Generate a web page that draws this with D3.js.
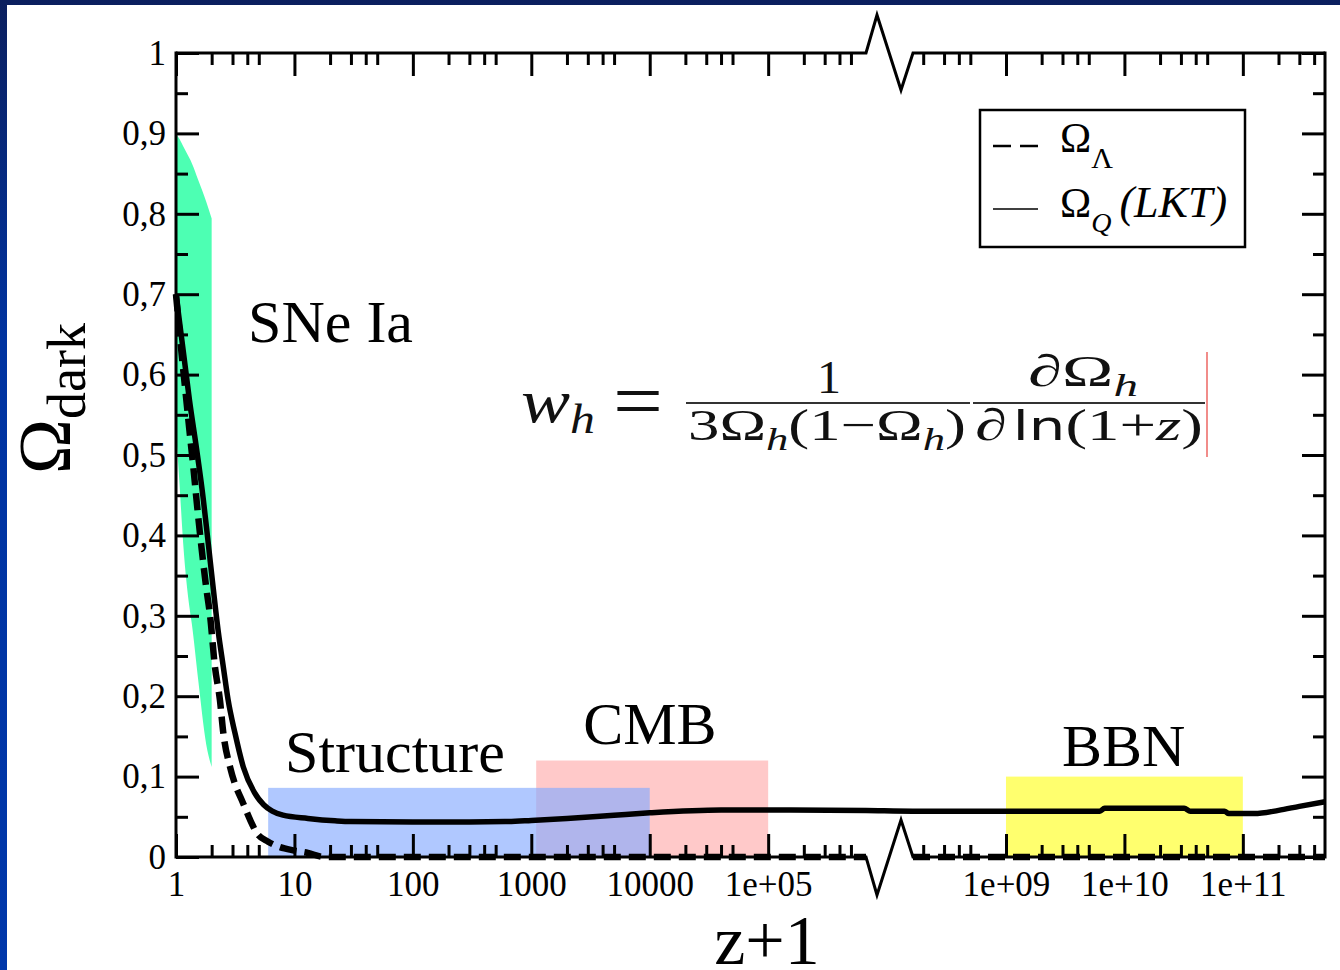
<!DOCTYPE html>
<html><head><meta charset="utf-8">
<script src="https://cdn.jsdelivr.net/npm/d3@7"></script>
<style>
html,body{margin:0;padding:0;background:#fff;}
svg{display:block;}
</style></head><body>
<svg id="chart" width="1340" height="970"></svg>
<script>
// ---------------- data ----------------
const xDomainLeft  = [1, 6.7e5];
const xDomainRight = [1.64e8, 4.94e11];
const yDomain = [0, 1];

const xMajorLeft  = [1, 10, 100, 1000, 10000, 100000];
const xLabelsLeft = ["1", "10", "100", "1000", "10000", "1e+05"];
const xMajorRight  = [1e9, 1e10, 1e11];
const xLabelsRight = ["1e+09", "1e+10", "1e+11"];
const xMinorMultipliers = [2, 3, 4, 5];
const xMinorDecadesLeft  = [1, 10, 100, 1000, 10000, 100000];
const xMinorDecadesRight = [1e8, 1e9, 1e10, 1e11];

const yMajor = [0, 0.1, 0.2, 0.3, 0.4, 0.5, 0.6, 0.7, 0.8, 0.9, 1];
const yLabels = ["0", "0,1", "0,2", "0,3", "0,4", "0,5", "0,6", "0,7", "0,8", "0,9", "1"];
const yMinor = [0.05, 0.15, 0.25, 0.35, 0.45, 0.55, 0.65, 0.75, 0.85, 0.95];

// SNe Ia band (z+1, upper, lower)
const sneX     = [1,    1.07,  1.15,  1.3,   1.36,  1.54,  1.8,   2];
const sneUpper = [0.9,  0.893, 0.884, 0.869, 0.863, 0.842, 0.815, 0.794];
const sneLower = [0.53, 0.465, 0.39,  0.31,  0.29,  0.22,  0.14,  0.112];

// observational windows
const regionNames = ["CMB", "Structure", "BBN"];
const regionX0    = [1100, 6, 1e9];
const regionX1    = [1e5, 1e4, 1e11];
const regionTop   = [0.12, 0.086, 0.1];
const regionFill  = ["#ffc9c9", "rgba(132,169,255,0.64)", "#ffff6e"];

// Omega_Lambda (dashed)
const lambdaLeftX = [1, 1.1, 1.2, 1.3, 1.4, 1.5, 1.6, 1.8, 1.94, 2.13, 2.35, 2.51, 2.86, 3.2, 3.59, 4.2, 4.8, 6, 7.3, 10, 13, 18, 6.7e5];
const lambdaLeftY = [0.70, 0.635, 0.58, 0.53, 0.485, 0.44, 0.40, 0.335, 0.30, 0.237, 0.195, 0.154, 0.112, 0.088, 0.071, 0.047, 0.03, 0.019, 0.013, 0.008, 0.005, 0, 0];
const lambdaRightX = [1.64e8, 4.94e11];
const lambdaRightY = [0, 0];

// Omega_Q (LKT) (solid)
const quintX = [1, 1.15, 1.3, 1.5, 1.7, 1.85, 2, 2.28, 2.5, 2.75, 3.15, 3.7, 4.6, 5.5, 6.5, 8, 13, 22, 30, 100, 300, 600, 1000, 2000, 5000, 1e4, 4e4, 1e5, 6.7e5,
                1.64e8, 6.2e9, 6.8e9, 3.2e10, 3.6e10, 7e10, 7.6e10, 1.25e11, 2e11, 3e11, 4.94e11];
const quintY = [0.70, 0.63, 0.568, 0.505, 0.445, 0.397, 0.352, 0.279, 0.238, 0.196, 0.154, 0.112, 0.08, 0.065, 0.057, 0.052, 0.048, 0.045, 0.044, 0.0435, 0.0435, 0.044, 0.0455, 0.048, 0.052, 0.055, 0.0585, 0.0585, 0.0578,
                0.057, 0.057, 0.0605, 0.0605, 0.057, 0.057, 0.054, 0.054, 0.058, 0.063, 0.0688];

// annotation anchors (data coordinates)
const annText = ["SNe Ia", "Structure", "CMB", "BBN"];
const annX    = [4.06, 8.33, 2740, 2.97e9];
const annY    = [0.64, 0.106, 0.1405, 0.113];

// ---------------- layout ----------------
const svg = d3.select("#chart");
const W = 1340, H = 970;
const plot = {left: 176, right: 1325, top: 53, bottom: 857, breakStart: 866, breakEnd: 913};
const SERIF = "'Liberation Serif','Times New Roman',serif";

const xL = d3.scaleLog().domain(xDomainLeft).range([plot.left, plot.breakStart]);
const xR = d3.scaleLog().domain(xDomainRight).range([plot.breakEnd, plot.right]);
const X = v => (v <= xDomainLeft[1] ? xL(v) : xR(v));
const y = d3.scaleLinear().domain(yDomain).range([plot.bottom, plot.top]);

// frame
const defs = svg.append("defs");
const grad = defs.append("linearGradient").attr("id", "bg").attr("x1", 0).attr("y1", 0).attr("x2", 0).attr("y2", 1);
grad.append("stop").attr("offset", "0%").attr("stop-color", "#0b1f5e");
grad.append("stop").attr("offset", "35%").attr("stop-color", "#0033a0");
grad.append("stop").attr("offset", "100%").attr("stop-color", "#0037aa");
svg.append("rect").attr("width", W).attr("height", H).attr("fill", "url(#bg)");
svg.append("rect").attr("x", 7).attr("y", 5).attr("width", W - 7).attr("height", H - 5).attr("fill", "#fff");

// regions
regionNames.forEach((n, i) => {
  svg.append("rect")
    .attr("x", X(regionX0[i])).attr("width", X(regionX1[i]) - X(regionX0[i]))
    .attr("y", y(regionTop[i])).attr("height", y(0) - y(regionTop[i]))
    .attr("fill", regionFill[i]);
});

// SNe band
const sne = sneX.map((s, i) => ({s, u: sneUpper[i], l: sneLower[i]}));
svg.append("path").datum(sne)
  .attr("d", d3.area().x(d => X(d.s)).y0(d => y(d.l)).y1(d => y(d.u)).curve(d3.curveMonotoneX))
  .attr("fill", "#4dffb3");

// lines
const line = d3.line().x(d => X(d[0])).y(d => y(d[1])).curve(d3.curveMonotoneX);
[[lambdaLeftX, lambdaLeftY], [lambdaRightX, lambdaRightY]].forEach(([xs, ys]) => {
  svg.append("path").datum(xs.map((v, i) => [v, ys[i]]))
    .attr("d", line).attr("fill", "none").attr("stroke", "#000")
    .attr("stroke-width", 6.5).attr("stroke-dasharray", "17,8");
});
svg.append("path").datum(quintX.map((v, i) => [v, quintY[i]]))
  .attr("d", line).attr("fill", "none").attr("stroke", "#000").attr("stroke-width", 5.5)
  .attr("stroke-linejoin", "round");

// axes (ticks)
function styleTicks(g) {
  g.select(".domain").remove();
  g.selectAll("text").remove();
  g.selectAll("line").attr("stroke", "#000").attr("stroke-width", 3);
}
const minorLeft = xMinorDecadesLeft.flatMap(d => xMinorMultipliers.map(m => d * m)).filter(v => v > xDomainLeft[0] && v < xDomainLeft[1]);
const minorRight = xMinorDecadesRight.flatMap(d => xMinorMultipliers.map(m => d * m)).filter(v => v > xDomainRight[0] && v < xDomainRight[1]);
const MAJ = 23, MIN = 12;
[[xL, xMajorLeft, minorLeft], [xR, xMajorRight, minorRight]].forEach(([sc, maj, mn]) => {
  svg.append("g").attr("transform", `translate(0,${plot.bottom})`).call(d3.axisTop(sc).tickValues(maj).tickSize(MAJ)).call(styleTicks);
  svg.append("g").attr("transform", `translate(0,${plot.bottom})`).call(d3.axisTop(sc).tickValues(mn).tickSize(MIN)).call(styleTicks);
  svg.append("g").attr("transform", `translate(0,${plot.top})`).call(d3.axisBottom(sc).tickValues(maj).tickSize(MAJ)).call(styleTicks);
  svg.append("g").attr("transform", `translate(0,${plot.top})`).call(d3.axisBottom(sc).tickValues(mn).tickSize(MIN)).call(styleTicks);
});
svg.append("g").attr("transform", `translate(${plot.left},0)`).call(d3.axisRight(y).tickValues(yMajor).tickSize(MAJ)).call(styleTicks);
svg.append("g").attr("transform", `translate(${plot.left},0)`).call(d3.axisRight(y).tickValues(yMinor).tickSize(MIN)).call(styleTicks);
svg.append("g").attr("transform", `translate(${plot.right},0)`).call(d3.axisLeft(y).tickValues(yMajor).tickSize(MAJ)).call(styleTicks);
svg.append("g").attr("transform", `translate(${plot.right},0)`).call(d3.axisLeft(y).tickValues(yMinor).tickSize(MIN)).call(styleTicks);

// axis lines with break marks
const bw = plot.breakEnd - plot.breakStart;
const p1 = plot.breakStart + 0.234 * bw, p2 = plot.breakStart + 0.745 * bw;
function axisPath(base, dir) {
  return `M${plot.left},${base}L${plot.breakStart},${base}L${p1},${base - dir * 38}L${p2},${base + dir * 37}L${plot.breakEnd},${base}L${plot.right},${base}`;
}
svg.append("path").attr("d", axisPath(plot.top, 1)).attr("fill", "none").attr("stroke", "#000").attr("stroke-width", 3);
svg.append("path").attr("d", axisPath(plot.bottom, -1)).attr("fill", "none").attr("stroke", "#000").attr("stroke-width", 3);
svg.append("line").attr("x1", plot.left).attr("x2", plot.left).attr("y1", plot.top - 1.5).attr("y2", plot.bottom + 1.5).attr("stroke", "#000").attr("stroke-width", 3);
svg.append("line").attr("x1", plot.right).attr("x2", plot.right).attr("y1", plot.top - 1.5).attr("y2", plot.bottom + 1.5).attr("stroke", "#000").attr("stroke-width", 3);

// tick labels
function styleLabels(g) {
  g.select(".domain").remove();
  g.selectAll("line").remove();
  g.selectAll("text").attr("font-family", SERIF).attr("font-size", 35).attr("fill", "#000");
}
svg.append("g").attr("transform", `translate(0,${plot.bottom})`)
  .call(d3.axisBottom(xL).tickValues(xMajorLeft).tickSize(0).tickPadding(14).tickFormat((d, i) => xLabelsLeft[i])).call(styleLabels);
svg.append("g").attr("transform", `translate(0,${plot.bottom})`)
  .call(d3.axisBottom(xR).tickValues(xMajorRight).tickSize(0).tickPadding(14).tickFormat((d, i) => xLabelsRight[i])).call(styleLabels);
svg.append("g").attr("transform", `translate(${plot.left},0)`)
  .call(d3.axisLeft(y).tickValues(yMajor).tickSize(0).tickPadding(10).tickFormat((d, i) => yLabels[i])).call(styleLabels);

// annotations
annText.forEach((t, i) => {
  svg.append("text").attr("x", X(annX[i])).attr("y", y(annY[i]))
    .attr("font-family", SERIF).attr("font-size", 60).attr("fill", "#000").text(t);
});

// axis titles
svg.append("text").attr("x", 767).attr("y", 964).attr("text-anchor", "middle")
  .attr("font-family", SERIF).attr("font-size", 70).text("z+1");
const yt = svg.append("text").attr("transform", "translate(70,474) rotate(-90)")
  .attr("font-family", SERIF).attr("font-size", 74);
yt.append("tspan").text("Ω");
yt.append("tspan").attr("font-size", 54).attr("dy", 15).text("dark");

// legend
const lg = svg.append("g");
lg.append("rect").attr("x", 980).attr("y", 110).attr("width", 265).attr("height", 137)
  .attr("fill", "#fff").attr("stroke", "#000").attr("stroke-width", 2.5);
lg.append("line").attr("x1", 993).attr("x2", 1038).attr("y1", 146).attr("y2", 146)
  .attr("stroke", "#000").attr("stroke-width", 2.5).attr("stroke-dasharray", "18,9");
lg.append("line").attr("x1", 993).attr("x2", 1038).attr("y1", 209).attr("y2", 209)
  .attr("stroke", "#000").attr("stroke-width", 1.5);
const l1 = lg.append("text").attr("x", 1060).attr("y", 152).attr("font-family", SERIF).attr("font-size", 42);
l1.append("tspan").text("Ω");
l1.append("tspan").attr("font-size", 30).attr("dy", 16).text("Λ");
const l2 = lg.append("text").attr("x", 1060).attr("y", 217).attr("font-family", SERIF).attr("font-size", 42);
l2.append("tspan").text("Ω");
l2.append("tspan").attr("font-size", 28).attr("dy", 15).attr("font-style", "italic").text("Q");
l2.append("tspan").attr("dy", -15).attr("dx", 8).attr("font-size", 44).attr("font-style", "italic").text("(LKT)");

// formula
function fit(node, x0, x1) {
  const bb = node.node().getBBox();
  const sx = (x1 - x0) / bb.width;
  node.attr("transform", `translate(${x0},0) scale(${sx},1) translate(${-bb.x},0)`);
}
const F = svg.append("g").attr("font-family", SERIF).attr("fill", "#111");
const fw = F.append("text").attr("y", 422).attr("font-size", 62).attr("font-style", "italic");
fw.append("tspan").text("w");
fw.append("tspan").attr("font-size", 42).attr("dy", 11).text("h");
fit(fw, 521, 595);
const feq = F.append("text").attr("y", 428).attr("font-size", 80).text("=");
fit(feq, 613, 663);
const fn1 = F.append("text").attr("y", 393).attr("font-size", 47).text("1");
fit(fn1, 817, 841);
F.append("line").attr("x1", 686).attr("x2", 970).attr("y1", 403).attr("y2", 403).attr("stroke", "#333").attr("stroke-width", 2);
const fd1 = F.append("text").attr("y", 440).attr("font-size", 45);
fd1.append("tspan").text("3Ω");
fd1.append("tspan").attr("font-size", 32).attr("font-style", "italic").attr("dy", 10).text("h");
fd1.append("tspan").attr("dy", -10).text("(1−Ω");
fd1.append("tspan").attr("font-size", 32).attr("font-style", "italic").attr("dy", 10).text("h");
fd1.append("tspan").attr("dy", -10).text(")");
fit(fd1, 688, 966);
const fn2 = F.append("text").attr("y", 386).attr("font-size", 45);
fn2.append("tspan").attr("font-style", "italic").text("∂");
fn2.append("tspan").text("Ω");
fn2.append("tspan").attr("font-size", 32).attr("font-style", "italic").attr("dy", 10).text("h");
fit(fn2, 1028, 1138);
F.append("line").attr("x1", 973).attr("x2", 1205).attr("y1", 403).attr("y2", 403).attr("stroke", "#333").attr("stroke-width", 2);
const fd2 = F.append("text").attr("y", 440).attr("font-size", 45);
fd2.append("tspan").attr("font-style", "italic").text("∂");
fd2.append("tspan").attr("font-family", "'DejaVu Sans',sans-serif").attr("font-size", 40).attr("dx", 4).text("ln");
fd2.append("tspan").text("(1+");
fd2.append("tspan").attr("font-style", "italic").text("z");
fd2.append("tspan").text(")");
fit(fd2, 975, 1203);
F.append("line").attr("x1", 1207).attr("x2", 1207).attr("y1", 352).attr("y2", 457).attr("stroke", "#e8403c").attr("stroke-width", 1.2);
</script>
</body></html>
